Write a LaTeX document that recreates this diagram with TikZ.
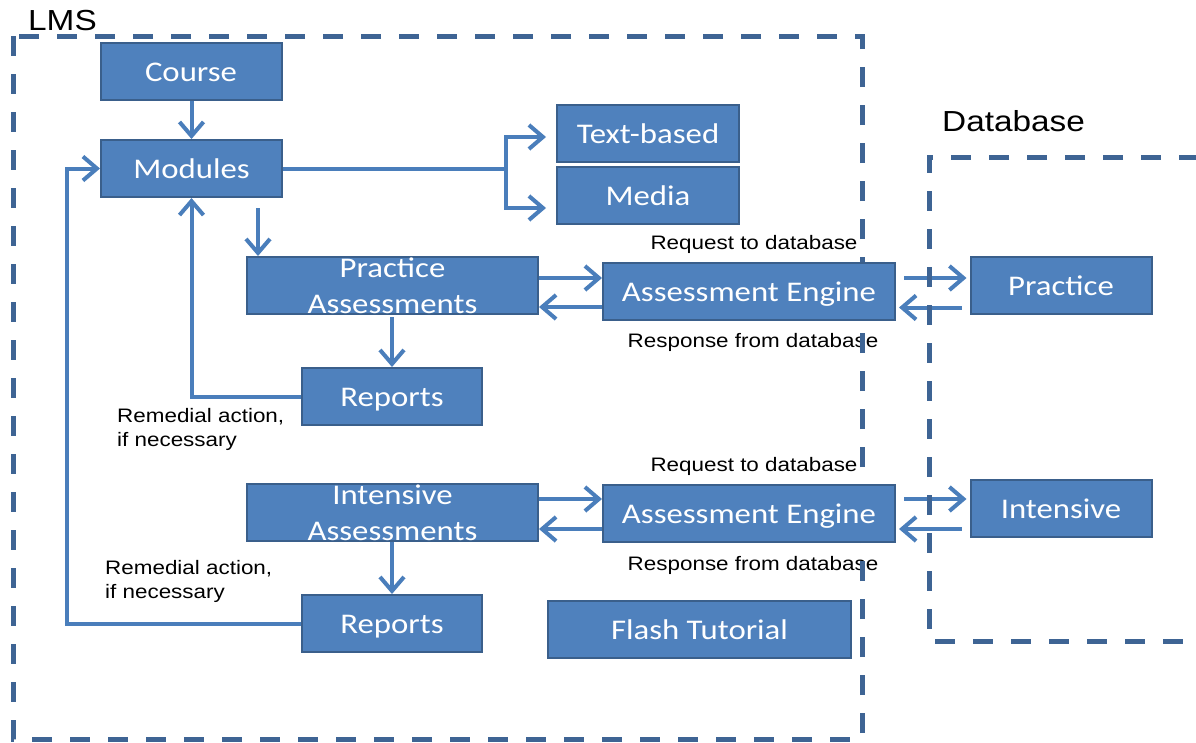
\documentclass[tikz,border=0pt]{standalone}
\usepackage{fontspec}
\usetikzlibrary{arrows.meta,calc}
\newfontfamily\boxfont{Carlito}[FakeStretch=1.15]
\newfontfamily\labfont{Liberation Sans}[FakeStretch=1.15]
\definecolor{boxfill}{HTML}{4F81BD}
\definecolor{boxline}{HTML}{3A5F8B}
\definecolor{flow}{HTML}{4A7EBB}
\definecolor{framecol}{HTML}{3E6494}
\pgfdeclarelayer{back}
\pgfdeclarelayer{mid}
\pgfsetlayers{back,mid,main}
\begin{document}
\begin{tikzpicture}[x=1pt,y=-1pt,
  block/.style={draw=boxline, line width=2pt, fill=boxfill, text=white, inner sep=0pt,
    font=\boxfont\fontsize{28.5pt}{36pt}\selectfont, minimum height=57pt},
  single/.style={text height=20.4pt, text depth=0pt},
  link/.style={draw=flow, line width=4pt},
  arr/.style={link, -{Straight Barb[length=14pt,width=24pt]}},
  frame/.style={draw=framecol, line width=5pt, dash pattern=on 20pt off 18pt},
  note/.style={font=\labfont\fontsize{19.5pt}{24pt}\selectfont, inner sep=0pt},
  heading/.style={font=\labfont\fontsize{29pt}{34pt}\selectfont, inner sep=0pt}]
\useasboundingbox (0,0) rectangle (1196,742);

% boxes
\node[block, single, minimum width=181pt] (course) at (191,71.5) {Course};
\node[block, single, minimum width=181pt] (modules) at (191.5,168.5) {Modules};
\node[block, single, minimum width=182pt] (textb) at (648,133.5) {Text-based};
\node[block, single, minimum width=182pt] (media) at (648,195) {Media};
\node[block, align=center, minimum width=291pt] (pa) at (392.5,285.5) {Practice\\Assessments};
\node[block, single, minimum width=292pt] (ae1) at (749,291) {Assessment Engine};
\node[block, single, minimum width=181pt] (practice) at (1061,285.5) {Practice};
\node[block, single, minimum width=180pt] (rep1) at (392,396.5) {Reports};
\node[block, align=center, minimum width=291pt] (ia) at (392.5,512.5) {Intensive\\Assessments};
\node[block, single, minimum width=292pt] (ae2) at (749,513) {Assessment Engine};
\node[block, single, minimum width=181pt] (intensive) at (1061,508.5) {Intensive};
\node[block, single, minimum width=180pt] (rep2) at (392,623.5) {Reports};
\node[block, single, minimum width=303pt] (flash) at (699.5,629) {Flash Tutorial};

% dashed system boundaries
\begin{pgfonlayer}{mid}
\draw[frame] (13,36) rectangle (862,739);
\draw[frame] (1199,157) -- (929,157) -- (929,641) -- (1199,641);
\end{pgfonlayer}

\begin{pgfonlayer}{back}
% titles and notes
\node[heading, anchor=base west] (lms) at (28,30) {LMS};
\node[heading, anchor=base west] (db) at (942,131) {Database};
\node[note] (req1) at (754,244) {Request to database};
\node[note] (resp1) at (753,342) {Response from database};
\node[note] (req2) at (754,466) {Request to database};
\node[note] (resp2) at (753,565) {Response from database};
\node[note, align=left, anchor=north west] (rem1) at (117,408) {Remedial action,\\if necessary};
\node[note, align=left, anchor=north west] (rem2) at (105,560) {Remedial action,\\if necessary};

% helper points
\coordinate (split) at ($(modules.east)+(223,0)$);
\coordinate (tbin) at ($(textb.west)+(-10,3.5)$);
\coordinate (mdin) at ($(media.west)+(-10,13)$);
\coordinate (m2p) at ($(pa.north west)+(12,0)$);
\coordinate (ae1in) at ($(ae1.west)+(0,-13)$);
\coordinate (ae1out) at ($(ae1.west)+(0,16)$);
\coordinate (p1in) at ($(practice.west)+(-3,-7.5)$);
\coordinate (p1out) at ($(practice.west)+(-8,22)$);
\coordinate (ae2in) at ($(ae2.west)+(0,-14)$);
\coordinate (ae2out) at ($(ae2.west)+(0,16)$);
\coordinate (p2in) at ($(intensive.west)+(-3,-9.5)$);
\coordinate (p2out) at ($(intensive.west)+(-8,20.5)$);
\coordinate (loop) at ($(modules.west)+(-33,200)$);

% connectors
\draw[arr] (course.south -| modules.north) -- (modules.north);
\draw[link] (modules.east) -- (split);
\draw[arr] (split) |- (tbin);
\draw[arr] (split) |- (mdin);
\draw[arr] ($(m2p |- modules.south)+(0,10)$) -- (m2p);

\draw[arr] (pa.east |- ae1in) -- (ae1in);
\draw[arr] (ae1out) -- (pa.east |- ae1out);
\draw[arr] ($(ae1.east |- p1in)+(8,0)$) -- (p1in);
\draw[arr] (p1out) -- ($(ae1.east |- p1out)+(3,0)$);

\draw[arr] (ia.east |- ae2in) -- (ae2in);
\draw[arr] (ae2out) -- (ia.east |- ae2out);
\draw[arr] ($(ae2.east |- p2in)+(8,0)$) -- (p2in);
\draw[arr] (p2out) -- ($(ae2.east |- p2out)+(3,0)$);

\draw[arr] ($(rep1.north |- pa.south)+(0,2)$) -- (rep1.north);
\draw[arr] (rep2.north |- ia.south) -- (rep2.north);

\draw[arr] (rep1.west) -| (modules.south);
\draw[arr] (rep2.west) -- (rep2.west -| loop) -- (loop |- modules.west) -- (modules.west);
\end{pgfonlayer}
\end{tikzpicture}
\end{document}
